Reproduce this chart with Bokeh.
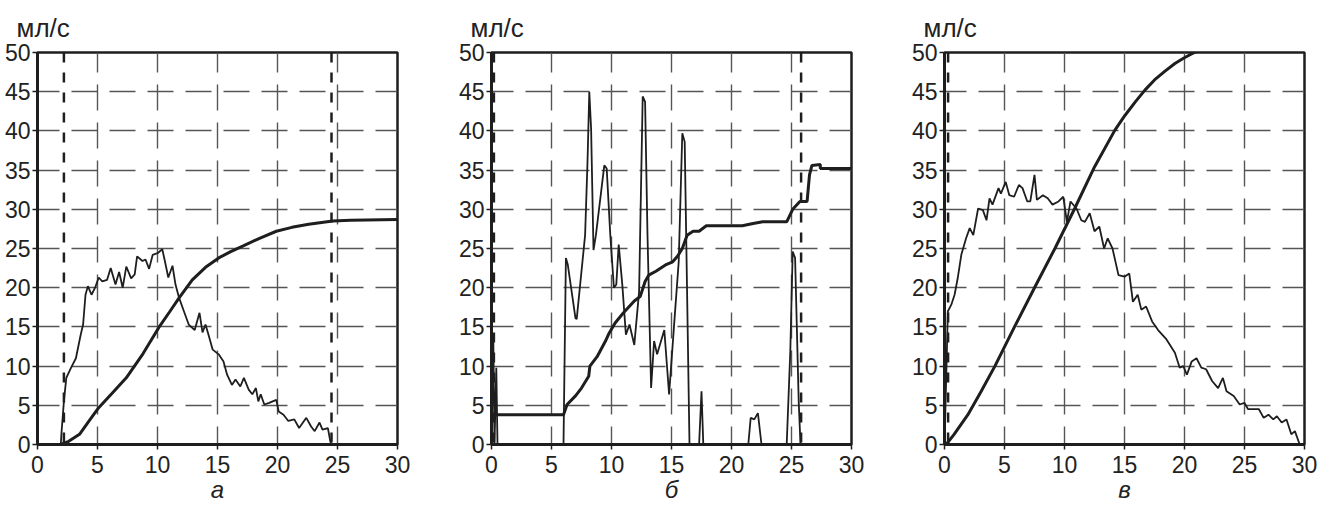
from bokeh.plotting import figure
from bokeh.layouts import row
from bokeh.models import Range1d, Span, FixedTicker
from bokeh.embed import file_html
from bokeh.resources import INLINE

# ---------------- data ----------------
# panel а
a_flow_x = [1.94, 2.0, 2.2, 2.4, 2.8, 3.2, 3.6, 3.8, 4.0, 4.2, 4.5, 4.8, 5.1, 5.4, 5.8, 6.1, 6.5, 6.8, 7.1, 7.4,
            7.8, 8.1, 8.3, 8.75, 9.0, 9.3, 9.6, 10.0, 10.4, 10.6, 10.9, 11.25, 11.5, 11.8, 12.2, 12.6, 13.1, 13.5,
            13.75, 14.0, 14.25, 14.6, 15.1, 15.5, 15.8, 16.2, 16.5, 16.9, 17.2, 17.6, 17.9, 18.2, 18.4, 18.6, 18.9,
            19.3, 19.9, 20.1, 20.5, 20.9, 21.4, 21.8, 22.4, 22.8, 23.1, 23.5, 23.75, 24.2, 24.4, 24.5]
a_flow_y = [0.0, 1.5, 5.5, 8.5, 9.8, 11.0, 14.0, 15.3, 19.1, 20.2, 19.1, 20.0, 21.3, 20.8, 21.0, 22.5, 20.4, 22.0,
            20.0, 22.7, 21.2, 21.7, 24.0, 23.4, 23.6, 22.4, 24.2, 24.4, 24.9, 23.5, 21.3, 22.8, 20.4, 18.7, 17.0,
            15.3, 14.6, 16.8, 14.3, 15.3, 14.0, 12.1, 11.5, 10.6, 8.9, 7.6, 8.3, 7.4, 8.5, 7.0, 6.4, 7.2, 5.5, 6.4,
            5.1, 5.3, 5.7, 4.2, 3.8, 3.0, 3.2, 2.1, 3.4, 2.3, 1.7, 2.8, 1.9, 2.1, 0.4, 0.0]
a_vol_x = [1.94, 2.6, 3.5, 4.3, 5.1, 6.2, 7.4, 8.8, 10.1, 11.0, 11.8, 12.9, 14.0, 15.1, 16.1, 17.1, 18.5, 19.9,
           21.2, 22.6, 24.6, 26.1, 30.0]
a_vol_y = [0.0, 0.4, 1.3, 3.0, 4.7, 6.5, 8.5, 11.6, 14.9, 16.9, 18.7, 21.0, 22.6, 23.8, 24.6, 25.3, 26.3, 27.2,
           27.7, 28.1, 28.5, 28.6, 28.7]
a_marks = [2.2, 24.5]

# panel б
b_flow_x = [0.0, 0.15, 0.25, 0.4, 0.5, 6.0, 6.0, 6.2, 6.35, 7.0, 7.1, 7.8, 8.0, 8.15, 8.3, 8.5, 8.7, 9.4, 9.6, 9.9,
            10.2, 10.4, 10.6, 10.9, 11.2, 11.5, 11.9, 12.3, 12.6, 12.8, 13.0, 13.3, 13.55, 13.8, 14.4, 14.8, 15.2,
            15.6, 15.9, 16.1, 16.5, 17.3, 17.5, 17.65, 21.4, 21.6, 21.9, 22.2, 22.5, 24.6, 24.9, 25.1, 25.3, 25.6,
            25.75, 26.0]
b_flow_y = [0.0, 13.6, 0.0, 9.8, 0.0, 0.0, 0.0, 23.8, 23.0, 16.1, 16.0, 26.7, 36.0, 45.0, 40.3, 24.8, 26.7, 35.6,
            35.2, 26.7, 20.0, 20.4, 25.5, 20.4, 14.0, 15.3, 12.7, 19.5, 44.4, 43.7, 26.7, 7.2, 13.2, 11.5, 14.6,
            6.4, 14.9, 23.3, 39.7, 38.6, 0.0, 0.0, 6.8, 0.0, 0.0, 3.4, 3.2, 4.0, 0.0, 0.0, 11.9, 24.6, 23.8, 5.5,
            0.0, 0.0]
b_vol_x = [0.3, 6.0, 6.3, 7.0, 7.5, 8.1, 8.2, 8.8, 9.5, 9.8, 10.3, 11.0, 11.9, 12.4, 12.8, 13.1, 13.7, 14.5, 15.1,
           15.5, 15.9, 16.3, 16.8, 17.3, 17.9, 20.9, 21.8, 22.6, 24.6, 25.1, 25.7, 26.3, 26.5, 26.7, 27.4, 27.4, 30.0]
b_vol_y = [3.8, 3.8, 5.1, 6.2, 7.2, 8.7, 10.0, 11.2, 13.2, 14.2, 15.5, 16.8, 18.3, 18.9, 20.8, 21.6, 22.1, 22.9,
           23.3, 24.0, 25.0, 26.7, 27.2, 27.2, 27.9, 27.9, 28.2, 28.4, 28.4, 30.0, 31.0, 31.0, 34.4, 35.6, 35.7,
           35.2, 35.2]
b_marks = [0.2, 25.8]

# panel в
c_flow_x = [0.0, 0.15, 0.28, 0.56, 0.84, 1.1, 1.4, 1.8, 2.1, 2.4, 2.8, 3.2, 3.5, 3.75, 4.0, 4.5, 4.7, 5.1, 5.4, 5.8,
            6.2, 6.5, 6.9, 7.15, 7.5, 7.7, 8.2, 8.6, 9.0, 9.5, 9.9, 10.2, 10.5, 11.0, 11.4, 11.7, 12.1, 12.5, 12.9,
            13.3, 13.6, 14.0, 14.5, 15.0, 15.4, 15.7, 16.1, 16.4, 16.8, 17.3, 17.8, 18.5, 19.2, 19.6, 19.9, 20.2,
            20.6, 21.0, 21.4, 21.8, 22.3, 22.8, 23.2, 23.5, 24.1, 24.6, 25.0, 25.3, 26.2, 26.6, 27.0, 27.4, 27.7,
            28.1, 28.5, 28.9, 29.2, 29.6, 29.8]
c_flow_y = [0.0, 9.0, 17.0, 17.8, 19.1, 21.2, 24.2, 26.3, 27.6, 26.7, 30.1, 29.9, 28.6, 31.4, 30.6, 32.7, 32.0,
            33.5, 31.8, 31.6, 33.1, 32.7, 31.0, 31.0, 34.4, 31.2, 31.8, 31.4, 30.6, 31.0, 31.6, 28.4, 31.0, 30.1,
            28.6, 28.4, 29.5, 27.2, 27.8, 25.0, 26.3, 25.0, 21.6, 21.4, 21.8, 18.2, 19.1, 17.2, 17.6, 15.7, 14.6,
            13.4, 11.7, 9.8, 10.0, 8.9, 10.6, 11.0, 9.8, 9.6, 8.1, 7.2, 8.5, 6.8, 6.2, 5.1, 5.3, 4.5, 4.5, 3.4,
            3.8, 3.2, 3.6, 2.8, 3.2, 1.3, 1.7, 0.0, 0.0]
c_vol_x = [0.14, 0.8, 1.95, 3.06, 4.2, 5.8, 7.5, 9.2, 10.85, 12.5, 14.2, 15.05, 15.9, 16.7, 17.5, 18.35, 19.2,
           19.95, 20.7, 21.2]
c_vol_y = [0.0, 1.3, 3.8, 6.8, 10.0, 14.9, 20.0, 25.0, 30.1, 35.4, 40.1, 42.0, 43.7, 45.2, 46.5, 47.6, 48.6,
           49.3, 49.9, 50.3]
c_marks = [0.3]

x_ticks = [0, 5, 10, 15, 20, 25, 30]
y_ticks = [0, 5, 10, 15, 20, 25, 30, 35, 40, 45, 50]
unit_label = "мл/с"
panel_letters = ["а", "б", "в"]

FONT = "Liberation Sans"
INK = "#1e1e1e"
TXT = "#222222"


def make_panel(width, flow_x, flow_y, vol_x, vol_y, marks, letter):
    p = figure(width=width, height=505, output_backend="svg", toolbar_location=None,
               x_range=Range1d(0, 30), y_range=Range1d(0, 50),
               title=unit_label,
               min_border_left=37, min_border_top=43, min_border_bottom=60,
               min_border_right=width - 37 - 360)
    p.background_fill_color = "white"
    p.border_fill_color = "white"
    p.outline_line_color = INK
    p.outline_line_width = 2.5

    p.title.text_font = FONT
    p.title.text_font_size = "26px"
    p.title.text_font_style = "normal"
    p.title.text_color = TXT
    p.title.align = "left"
    p.title.offset = -21
    p.title.standoff = 20

    for ax in (p.xaxis[0], p.yaxis[0]):
        ax.axis_line_width = 3
        ax.axis_line_color = INK
        ax.major_tick_out = 5
        ax.major_tick_in = 0
        ax.major_tick_line_color = INK
        ax.major_tick_line_width = 1.5
        ax.minor_tick_line_color = None
        ax.major_label_text_font = FONT
        ax.major_label_text_font_size = "23px"
        ax.major_label_text_color = TXT
    p.xaxis[0].ticker = FixedTicker(ticks=x_ticks)
    p.yaxis[0].ticker = FixedTicker(ticks=y_ticks)
    p.xaxis[0].major_label_standoff = 6
    p.yaxis[0].major_label_standoff = 2

    p.xaxis[0].axis_label = letter
    p.xaxis[0].axis_label_text_font = FONT
    p.xaxis[0].axis_label_text_font_size = "24px"
    p.xaxis[0].axis_label_text_font_style = "italic"
    p.xaxis[0].axis_label_text_color = TXT
    p.xaxis[0].axis_label_standoff = 0

    p.xgrid.grid_line_color = "#555555"
    p.ygrid.grid_line_color = "#555555"
    p.xgrid.grid_line_width = 1.4
    p.ygrid.grid_line_width = 1.4
    p.xgrid.grid_line_dash = "26 12"
    p.ygrid.grid_line_dash = "26 12"
    p.ygrid.grid_line_dash_offset = 4
    p.xgrid.grid_line_dash_offset = 8

    for m in marks:
        p.add_layout(Span(location=m, dimension="height", line_color=INK,
                          line_width=2.5, line_dash="10 10"))

    p.line(vol_x, vol_y, line_color=INK, line_width=3)
    p.line(flow_x, flow_y, line_color=INK, line_width=1.8)
    return p


pa = make_panel(454, a_flow_x, a_flow_y, a_vol_x, a_vol_y, a_marks, panel_letters[0])
pb = make_panel(453, b_flow_x, b_flow_y, b_vol_x, b_vol_y, b_marks, panel_letters[1])
pc = make_panel(418, c_flow_x, c_flow_y, c_vol_x, c_vol_y, c_marks, panel_letters[2])

layout = row(pa, pb, pc)
open("out.html", "w").write(file_html(layout, INLINE))
